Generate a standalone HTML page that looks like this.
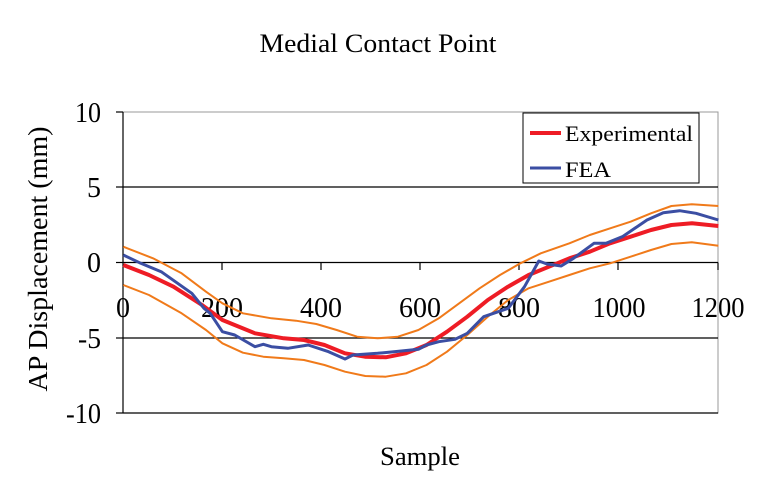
<!DOCTYPE html>
<html><head><style>body{margin:0;background:#fff}svg{display:block}</style></head><body>
<svg width="758" height="498" xmlns="http://www.w3.org/2000/svg" font-family="Liberation Serif, serif">
<rect width="758" height="498" fill="#fff"/>
<text x="378" y="52" font-size="26" text-anchor="middle" textLength="237" lengthAdjust="spacingAndGlyphs">Medial Contact Point</text>
<rect x="123" y="112" width="595" height="301" fill="none" stroke="#999" stroke-width="1"/>
<g stroke="#000" stroke-width="1.2">
<line x1="123" y1="187" x2="718" y2="187"/>
<line x1="123" y1="338" x2="718" y2="338"/>
<line x1="123" y1="413" x2="718" y2="413"/>
<line x1="123" y1="262.5" x2="718" y2="262.5"/>
<line x1="123" y1="112" x2="123" y2="413"/>
<line x1="116" y1="112" x2="123" y2="112"/><line x1="116" y1="187" x2="123" y2="187"/><line x1="116" y1="262.5" x2="123" y2="262.5"/><line x1="116" y1="338" x2="123" y2="338"/><line x1="116" y1="413" x2="123" y2="413"/>
<line x1="222" y1="262.5" x2="222" y2="270"/><line x1="321" y1="262.5" x2="321" y2="270"/><line x1="420" y1="262.5" x2="420" y2="270"/><line x1="519" y1="262.5" x2="519" y2="270"/><line x1="618" y1="262.5" x2="618" y2="270"/><line x1="718" y1="262.5" x2="718" y2="270"/>
</g>
<g font-size="28" text-anchor="end">
<text x="101" y="122" textLength="26" lengthAdjust="spacingAndGlyphs">10</text><text x="101" y="197">5</text><text x="101" y="272">0</text><text x="101" y="348" textLength="23" lengthAdjust="spacingAndGlyphs">-5</text><text x="101" y="423" textLength="35" lengthAdjust="spacingAndGlyphs">-10</text>
</g>
<g font-size="28" text-anchor="middle">
<text x="123" y="317">0</text><text x="222" y="317" textLength="42" lengthAdjust="spacingAndGlyphs">200</text><text x="321" y="317" textLength="42" lengthAdjust="spacingAndGlyphs">400</text><text x="420" y="317" textLength="42" lengthAdjust="spacingAndGlyphs">600</text><text x="519" y="317" textLength="42" lengthAdjust="spacingAndGlyphs">800</text><text x="619" y="317" textLength="53" lengthAdjust="spacingAndGlyphs">1000</text><text x="718" y="317" textLength="53" lengthAdjust="spacingAndGlyphs">1200</text>
</g>
<text x="420" y="465" font-size="26" text-anchor="middle" textLength="80" lengthAdjust="spacingAndGlyphs">Sample</text>
<text transform="translate(47,259) rotate(-90)" font-size="27" text-anchor="middle" textLength="265" lengthAdjust="spacingAndGlyphs">AP Displacement (mm)</text>
<g fill="none" stroke-linejoin="round">
<polyline stroke="#f07a1a" stroke-width="2" points="123.3,246.7 153,258.3 181.6,273.3 206,291.7 222.4,303.3 242.9,313.3 271.4,318.3 296,320.7 316.3,324 336.7,330 357.1,336.7 377.6,338.3 398,336.7 418.4,330 438.8,318.3 459.2,303.3 479.6,288.3 500,275 520.4,263.3 540.8,253.3 569.4,243.3 589.8,235 610.2,228.3 630.6,221.7 651,213.3 671.4,206 691.8,204.3 718.4,206"/>
<polyline stroke="#f07a1a" stroke-width="2" points="123.3,285 149,295 181.6,313.3 206,330 222.4,343.3 242.9,352.7 263.3,356.7 283.7,358.3 304,360 324.5,365 345,371.7 365.3,376 385.7,376.7 406,373.3 426.5,365 447,351.7 467.3,335 487.8,316.7 508.2,300 528.6,288.3 549,281.7 569.4,275 589.8,268.3 610.2,263.3 630.6,256.7 651,250 671.4,244 691.8,242.3 718.4,245.7"/>
<polyline stroke="#ee1c25" stroke-width="4" points="123.3,265 149,275 173.5,286.7 202,305 222.4,320 255,333.3 283.7,338.3 304,340 324.5,345 345,353.3 365,356.7 385.7,357.3 406,353.3 426.5,345 447,331.7 467.3,316.7 487.8,300 508,286.7 528.6,275 549,266.7 569.4,258.3 589.8,251.7 610,243.3 630.6,236.7 651,230 671.4,225 692,223.3 718.4,226"/>
<polyline stroke="#3b4ea3" stroke-width="3" points="123.3,255 140.8,263.3 161.2,271.7 191.8,293.3 204,308.3 210.2,313.3 222.4,331.7 234.7,335 255,346.7 263.3,344.3 271.4,346.7 287.8,348.3 308.2,345 328.6,351.7 345,359 353,355 377.6,353.3 393.9,351.7 418.4,349.3 426.5,345 438.8,341.7 455,339.3 467.3,333.3 483.7,316.7 508.2,308.3 524.5,286.7 538.8,261 547,264 561.2,266 573.5,258.3 594,243.3 606,243.3 622.4,236.7 647,220 663.3,212.7 679.6,210.7 696,213.3 718.4,220"/>
</g>
<rect x="523" y="113" width="176" height="70" fill="#fff" stroke="#000" stroke-width="1"/>
<line x1="530" y1="133" x2="561" y2="133" stroke="#ee1c25" stroke-width="4"/>
<line x1="530" y1="168" x2="561" y2="168" stroke="#3b4ea3" stroke-width="3"/>
<text x="565" y="141" font-size="22" textLength="128" lengthAdjust="spacingAndGlyphs">Experimental</text>
<text x="565" y="177" font-size="22" textLength="46" lengthAdjust="spacingAndGlyphs">FEA</text>
</svg>
</body></html>
